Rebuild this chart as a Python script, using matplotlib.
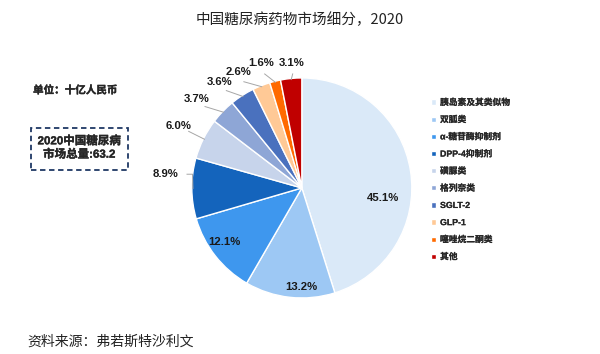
import numpy as np
import matplotlib
matplotlib.use("Agg")
import matplotlib.pyplot as plt
import matplotlib.patches as patches
import matplotlib.patheffects as pe

plt.rcParams['font.family'] = ['Liberation Sans', 'Noto Sans CJK SC', 'DejaVu Sans']

categories = ['胰岛素及其类似物', '双胍类', 'α-糖苷酶抑制剂', 'DPP-4抑制剂', '磺脲类',
              '格列奈类', 'SGLT-2', 'GLP-1', '噻唑烷二酮类', '其他']
shares = [45.1, 13.2, 12.1, 8.9, 6.0, 3.7, 3.6, 2.6, 1.6, 3.1]
colors = ['#DAE9F8', '#9DC8F4', '#3E97EE', '#1464BC', '#C7D4EB',
          '#8EA6D6', '#4A71BE', '#FFC996', '#FF6A00', '#C00000']

# label placement: radius factor and angle nudge (deg) per wedge
label_r = [0.74, 0.90, 0.86, 1.25, 1.25, 1.25, 1.22, 1.20, 1.19, 1.14]
label_da = [-16, 6, -3, -6, 0, 4, 5, 7, 4, -1]

# fake bold for the CJK font
bold = [pe.withStroke(linewidth=0.25, foreground='#262626')]

fig = plt.figure(figsize=(6, 3.54), dpi=100)
ax = fig.add_axes([0.503 - 0.1833, 0.469 - 0.3107, 0.3667, 0.6215])

wedges, _ = ax.pie(shares, colors=colors, startangle=90, counterclock=False,
                   wedgeprops=dict(edgecolor='white', linewidth=1.0))
ax.set_aspect('equal')
ax.set_xlim(-1, 1)
ax.set_ylim(-1, 1)

total = sum(shares)
cum = np.cumsum([0] + shares[:-1])
for i, v in enumerate(shares):
    mid = 90 - (cum[i] + v / 2) / total * 360
    a = np.deg2rad(mid + label_da[i])
    r = label_r[i]
    tx, ty = r * np.cos(a), r * np.sin(a)
    ax.text(tx, ty, f'{v:.1f}%', ha='center', va='center', fontsize=8.2,
            fontweight='bold', color='#1a1a1a', zorder=5)
    if r > 1:
        am = np.deg2rad(mid)
        ex, ey = 0.99 * np.cos(am), 0.99 * np.sin(am)
        sx, sy = (r - 0.1) * np.cos(a), (r - 0.1) * np.sin(a)
        if i == 3:
            sx = tx + 0.2
            ax.plot([sx, sx + 0.05, ex], [ty, ty, ey], color='#A6A6A6', lw=0.7, clip_on=False)
        else:
            ax.plot([sx, ex], [sy, ey], color='#A6A6A6', lw=0.7, clip_on=False)

leg = fig.legend(wedges, categories, loc='upper left', bbox_to_anchor=(0.705, 0.745),
                 frameon=False, handlelength=0.55, handleheight=0.55, handletextpad=0.5,
                 labelspacing=0.93, prop=dict(family=['Liberation Sans', 'Noto Sans CJK SC'],
                                             size=6.3, weight='bold'))
for t in leg.get_texts():
    t.set_color('#262626')
    t.set_path_effects([pe.withStroke(linewidth=0.12, foreground='#262626')])

fig.text(0.5, 0.943, '中国糖尿病药物市场细分，2020', ha='center', va='center',
         fontsize=10.5, family=['Noto Sans CJK SC'], color='#222222')
fig.text(0.055, 0.745, '单位：十亿人民币', ha='left', va='center', fontsize=7.6,
         fontweight='bold', family=['Noto Sans CJK SC'], color='#262626',
         path_effects=bold)
fig.text(0.132, 0.582, '2020中国糖尿病\n市场总量:63.2', ha='center', va='center',
         fontsize=8.3, fontweight='bold', linespacing=1.15, color='#262626',
         path_effects=bold)
fig.patches.append(patches.Rectangle((31 / 600, 1 - 170 / 354), 97 / 600, 42 / 354,
                                     transform=fig.transFigure, fill=False,
                                     linestyle=(0, (3, 2)), edgecolor='#1F3864', lw=1.3))
fig.text(0.045, 0.036, '资料来源：弗若斯特沙利文', ha='left', va='center', fontsize=10,
         family=['Noto Sans CJK SC'], color='#222222')

fig.savefig('out.png', dpi=100)
